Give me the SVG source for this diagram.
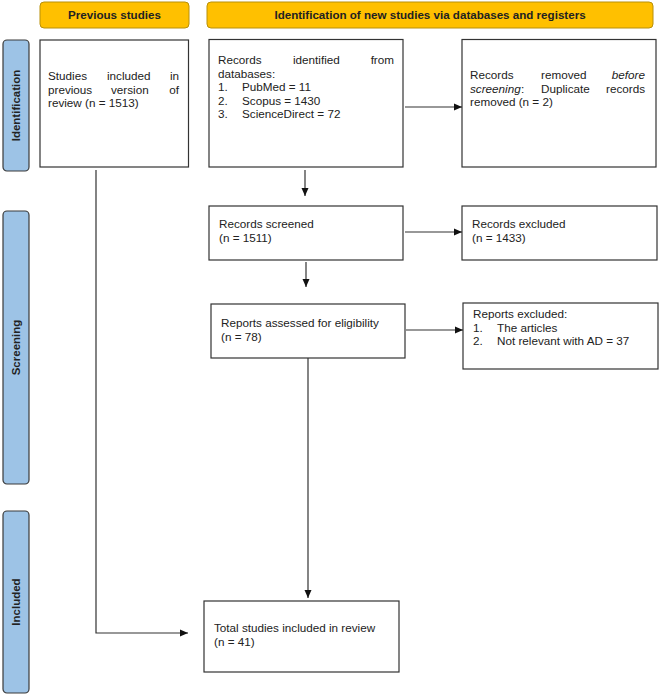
<svg xmlns="http://www.w3.org/2000/svg" width="659" height="695" viewBox="0 0 659 695">
<style>
text{font-family:"Liberation Sans",Arial,sans-serif;font-size:11.7px;fill:#222}
.hdr{fill:#FFC000;stroke:#B8900A;stroke-width:1}
.hdrt{font-weight:bold;font-size:11.6px;text-anchor:middle;fill:#222}
.side{fill:#9DC3E6;stroke:#3a3a3a;stroke-width:1.2}
.sidet{font-weight:bold;font-size:11.5px;text-anchor:middle;fill:#222}
.box{fill:#fff;stroke:#333;stroke-width:1.2}
.conn{fill:none;stroke:#333;stroke-width:1.2}
.e{text-anchor:end}
.i{font-style:italic}
</style>
<defs>
<marker id="ah" viewBox="0 0 8 8" refX="8" refY="4" markerWidth="8" markerHeight="8" markerUnits="userSpaceOnUse" orient="auto">
<path d="M0,0.5 L8,4 L0,7.5 Z" fill="#111"/>
</marker>
</defs>
<g id="hdr-prev"><rect class="hdr" x="40" y="2" width="149" height="26" rx="4"/><text class="hdrt" x="114.5" y="19">Previous studies</text></g>
<g id="hdr-new"><rect class="hdr" x="207" y="2" width="446" height="26" rx="4"/><text class="hdrt" x="430" y="19">Identification of new studies via databases and registers</text></g>
<g id="side-identification"><rect class="side" x="3" y="40" width="26" height="131" rx="4"/><text class="sidet" transform="translate(20,105.5) rotate(-90)">Identification</text></g>
<g id="side-screening"><rect class="side" x="3" y="211" width="26" height="273" rx="4"/><text class="sidet" transform="translate(20,347.5) rotate(-90)">Screening</text></g>
<g id="side-included"><rect class="side" x="3" y="511" width="26" height="182" rx="4"/><text class="sidet" transform="translate(20,602) rotate(-90)">Included</text></g>

<g id="previous-studies"><rect class="box" x="40" y="40" width="148.5" height="127"/>
<text x="48" y="80">Studies</text><text x="107" y="80">included</text><text class="e" x="179" y="80">in</text>
<text x="48" y="93.5">previous</text><text x="111" y="93.5">version</text><text class="e" x="179" y="93.5">of</text>
<text x="48" y="107">review (n = 1513)</text></g>

<g id="records-identified"><rect class="box" x="209" y="39.5" width="194" height="127.5"/>
<text x="218" y="64">Records</text><text x="293" y="64">identified</text><text class="e" x="394" y="64">from</text>
<text x="218" y="77.5">databases:</text>
<text x="218" y="91">1.</text><text x="242" y="91">PubMed = 11</text>
<text x="218" y="104.5">2.</text><text x="242" y="104.5">Scopus = 1430</text>
<text x="218" y="118">3.</text><text x="242" y="118">ScienceDirect = 72</text></g>

<g id="records-removed"><rect class="box" x="462" y="39.5" width="194" height="127.5"/>
<text x="470" y="79">Records</text><text x="541" y="79">removed</text><text class="e i" x="645" y="79">before</text>
<text class="i" x="470" y="92.5">screening</text><text x="521" y="92.5">:</text><text x="541" y="92.5">Duplicate</text><text class="e" x="645" y="92.5">records</text>
<text x="470" y="106">removed  (n = 2)</text></g>

<g id="records-screened"><rect class="box" x="209" y="206" width="194" height="54"/>
<text x="219" y="228">Records screened</text><text x="219" y="241.5">(n = 1511)</text></g>

<g id="records-excluded"><rect class="box" x="462" y="206" width="195" height="54"/>
<text x="472" y="228">Records excluded</text><text x="472" y="241.5">(n = 1433)</text></g>

<g id="reports-assessed"><rect class="box" x="211" y="304" width="194" height="54"/>
<text x="221" y="327">Reports assessed for eligibility</text><text x="221" y="340.5">(n = 78)</text></g>

<g id="reports-excluded"><rect class="box" x="463" y="303" width="195" height="66"/>
<text x="473" y="318">Reports excluded:</text>
<text x="473" y="331.5">1.</text><text x="497" y="331.5">The articles</text>
<text x="473" y="345">2.</text><text x="497" y="345">Not relevant with AD = 37</text></g>

<g id="total-included"><rect class="box" x="204" y="601" width="195" height="71"/>
<text x="214" y="632">Total studies included in review</text><text x="214" y="645.5">(n = 41)</text></g>

<g id="connectors">
<line class="conn" x1="405" y1="107" x2="462" y2="107" marker-end="url(#ah)"/>
<line class="conn" x1="305" y1="170" x2="305" y2="196" marker-end="url(#ah)"/>
<line class="conn" x1="405" y1="232" x2="462" y2="232" marker-end="url(#ah)"/>
<line class="conn" x1="306" y1="262" x2="306" y2="287" marker-end="url(#ah)"/>
<line class="conn" x1="406" y1="330" x2="463" y2="330" marker-end="url(#ah)"/>
<line class="conn" x1="308" y1="358" x2="308" y2="598" marker-end="url(#ah)"/>
<polyline class="conn" points="96,170 96,633 188,633" marker-end="url(#ah)"/>
</g>
</svg>
